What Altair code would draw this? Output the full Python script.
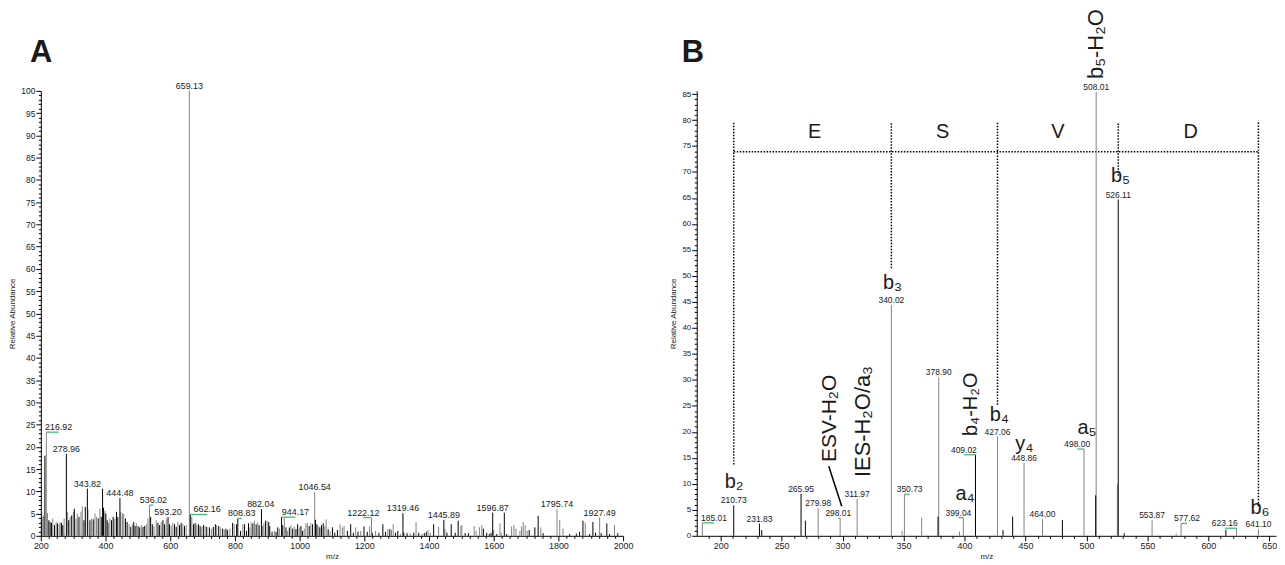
import altair as alt
import pandas as pd

FONT = "Liberation Sans"
BLACK = "#000000"
GREY = "#828282"
GREEN = "#3fbf6f"
TXT = "#1a1a1a"
COLMAP = {"k": BLACK, "g": GREY}

# ---------------- Panel A : full MS spectrum ----------------
a_mz_low = [
    203.1, 208.2, 212.5, 216.92, 220.5, 224.6, 228.7, 232.8, 236.9, 242.1,
    247.2, 251.3, 256.4, 259.5, 263.6, 267.7, 271.8, 278.96, 282.1, 286.2,
    290.3, 295.4, 300.5, 303.6, 308.7, 312.8, 317.9, 324.1, 328.2, 333.3,
    337.4, 343.82, 345.6, 351.8, 356.9, 362.1, 367.2, 372.3, 377.4, 382.6,
    386.7, 390.8, 393.8, 397.9, 401.0, 405.1, 409.2, 413.3, 418.5, 423.6,
    428.7, 433.8, 437.9, 444.48, 447.2, 452.3, 456.4, 461.5, 466.7, 472.8,
    477.9, 483.1, 487.2, 491.3, 495.4, 500.5, 505.6, 510.8, 515.9, 521.0,
    526.2, 531.3, 536.02, 539.5, 544.6, 549.7, 556.9, 562.1, 567.2, 572.3,
    577.4, 582.6, 587.7, 593.2, 597.9, 603.1, 608.2, 613.3, 618.5, 623.6,
    628.7, 633.8, 639.0, 644.1, 649.2, 659.13, 662.16, 666.7, 671.8, 676.9,
    682.1, 687.2, 692.3, 697.4, 702.6, 707.7, 712.8, 721.0, 727.2, 733.3,
    739.5, 743.6, 749.7, 755.9, 762.1, 767.2, 772.3, 777.4, 784.6, 792.8,
    797.9, 805.1, 808.83,
]
a_ab_low = [
    4.25, 4.6, 18.0, 23.3, 5.1, 3.5, 3.1, 2.9, 3.9, 2.4,
    3.1, 2.8, 2.6, 3.1, 2.9, 2.4, 3.9, 18.4, 5.4, 3.5,
    4.25, 4.6, 5.4, 6.1, 3.9, 5.0, 4.25, 5.4, 6.6, 3.5,
    6.5, 10.6, 5.9, 3.5, 3.9, 3.7, 5.0, 4.25, 3.9, 6.1,
    4.25, 10.6, 6.3, 5.6, 5.0, 3.5, 2.9, 3.9, 3.5, 4.25,
    3.9, 5.4, 4.25, 8.5, 5.4, 5.0, 5.0, 3.9, 3.1, 2.6,
    2.0, 2.6, 3.1, 2.2, 2.8, 2.2, 1.9, 2.4, 2.0, 2.2,
    2.6, 3.9, 6.9, 4.25, 2.6, 2.2, 3.5, 2.9, 2.4, 3.1,
    3.5, 2.6, 3.9, 4.25, 2.6, 2.2, 2.9, 2.6, 2.0, 3.1,
    2.4, 2.9, 2.6, 2.2, 2.4, 100, 4.8, 4.25, 2.6, 2.9,
    2.4, 2.6, 2.2, 2.0, 2.4, 2.2, 2.0, 1.9, 1.6, 2.0,
    2.6, 2.4, 2.2, 1.9, 1.6, 1.4, 1.6, 1.3, 1.6, 2.9,
    2.6, 2.6, 3.9,
]
a_col_low = list(
    "kgkggkkkgk" "gkggkkgkgk" "gkgkggkggk" "kkgkgkggkg" "kkkgkkggkk"
    "gkkkgggkkg" "kgkkgkkgkk" "gggkkggkkg" "kkgkkggkkg" "kkgkggkgkk"
    "gkkgkgkkgk" "kgkgkgkkgk" "gkk"
)

a_mz_mid = [
    817.4, 824.6, 829.7, 835.9, 842.0, 846.1, 850.2, 855.4, 860.5, 865.6,
    870.7, 874.8, 882.04, 885.1, 889.2, 894.3, 899.5, 904.6, 907.7, 914.8,
    922.0, 927.1, 932.3, 937.4, 944.17, 947.7, 952.8, 957.9, 963.0, 968.2,
    973.3, 978.4, 983.6, 988.7, 993.8, 998.9, 1004.1, 1009.2, 1014.3, 1019.5,
    1024.6, 1029.7, 1034.8, 1040.0, 1046.54, 1049.2, 1053.3, 1057.4, 1062.5, 1067.6,
    1072.8, 1077.9, 1082.0, 1088.2, 1094.3, 1101.5, 1108.7, 1116.9, 1125.1, 1132.3,
    1137.4, 1147.7, 1157.9, 1166.1, 1173.3, 1180.5, 1188.7, 1198.9, 1209.2, 1216.4,
    1222.12, 1224.6, 1234.8, 1245.1, 1257.4, 1265.6, 1272.8, 1278.9, 1284.1, 1289.2,
    1296.4, 1303.5, 1311.8, 1319.46, 1322.0, 1332.3, 1342.5, 1352.8, 1360.0, 1368.2,
    1378.4, 1385.6, 1391.7, 1396.9, 1404.1, 1414.3,
]
a_ab_mid = [
    1.1, 2.6, 2.6, 1.1, 2.8, 1.9, 3.0, 2.8, 3.4, 2.6,
    3.0, 2.4, 6.0, 2.2, 2.8, 3.4, 3.4, 3.1, 2.2, 0.9,
    1.1, 0.9, 1.9, 1.6, 4.2, 2.4, 4.1, 1.9, 1.1, 1.9,
    2.4, 1.6, 2.1, 1.5, 2.6, 1.9, 2.2, 1.1, 1.6, 2.8,
    2.8, 2.2, 2.8, 2.6, 9.8, 3.6, 2.6, 2.2, 1.9, 2.4,
    2.8, 2.2, 3.7, 1.5, 1.1, 1.9, 0.7, 1.3, 2.6, 1.9,
    2.2, 1.1, 2.6, 0.7, 1.9, 0.9, 1.1, 2.1, 0.9, 2.1,
    4.1, 0.7, 1.1, 0.7, 2.6, 0.9, 1.5, 1.5, 1.3, 2.6,
    0.7, 1.1, 0.4, 5.1, 0.7, 0.6, 0.5, 0.7, 3.1, 0.7,
    0.5, 0.6, 0.9, 1.3, 0.7, 2.6,
]
a_col_mid = list(
    "kgkkkggkgk" "gkkggkgkkk" "gkkgkkgkgk" "gkgkkgkkgg" "gkgkgkkgkk"
    "kggkgkkkgg" "gkkkgkgkkg" "gkgkkkgkgg" "kkgkkkgkgk" "gkkggk"
)

a_mz_high = [
    1429.7, 1445.89, 1449.2, 1455.4, 1468.7, 1481.0, 1490.2, 1498.4, 1501.5, 1511.8,
    1522.0, 1539.5, 1545.6, 1555.9, 1563.1, 1568.2, 1578.4, 1586.6, 1591.8, 1596.87,
    1600.0, 1609.2, 1619.5, 1623.6, 1632.8, 1640.0, 1655.4, 1662.5, 1668.7, 1681.0,
    1686.1, 1691.3, 1697.4, 1703.6, 1709.7, 1727.2, 1737.4, 1745.6, 1752.8, 1795.74,
    1804.1, 1814.3, 1834.8, 1855.4, 1865.6, 1875.9, 1883.0, 1896.4, 1906.6, 1914.8,
    1927.49, 1932.3, 1949.7, 1957.9, 1973.3, 1983.5,
]
a_ab_high = [
    2.1, 3.6, 1.5, 0.7, 2.6, 0.7, 3.4, 2.2, 2.4, 0.6,
    0.6, 2.2, 1.1, 1.9, 2.4, 1.6, 0.7, 0.4, 0.7, 5.2,
    1.3, 0.4, 2.8, 0.7, 5.2, 0.4, 2.1, 2.4, 1.6, 1.1,
    2.1, 3.1, 2.4, 1.1, 1.3, 1.9, 4.5, 1.9, 0.6, 6.0,
    3.6, 1.6, 0.4, 0.5, 0.9, 3.4, 3.0, 0.4, 3.1, 0.7,
    4.1, 0.6, 2.8, 0.4, 2.4, 0.6,
]
a_col_high = list(
    "gkgkkkkggk" "kggggkkkkk" "gkggkkgggg" "ggggkkkgkg" "ggkkkkgkkk" "gkkkgk"
)

# peak labels of panel A
a_lab_text = ["216.92", "278.96", "343.82", "444.48", "536.02", "593.20", "659.13",
              "662.16", "808.83", "882.04", "944.17", "1046.54", "1222.12", "1319.46",
              "1445.89", "1596.87", "1795.74", "1927.49"]
a_lab_peak = [216.92, 278.96, 343.82, 444.48, 536.02, 593.20, 659.13,
              662.16, 808.83, 882.04, 944.17, 1046.54, 1222.12, 1319.46,
              1445.89, 1596.87, 1795.74, 1927.49]
a_lab_x = [255, 278.96, 343.82, 444.48, 548, 593.2, 659.13,
           714, 821, 880, 987, 1046.54, 1197, 1319.46,
           1445.89, 1596.87, 1795.74, 1927.49]
a_lab_y = [23.3, 18.4, 10.6, 8.5, 6.9, 4.25, 100,
           4.8, 3.9, 6.0, 4.2, 9.8, 4.1, 5.1,
           3.6, 5.2, 6.0, 4.1]

# ---------------- Panel B : MS/MS spectrum ----------------
b_mz = [185.01, 210.73, 231.83, 233.7, 265.95, 269.5, 279.98, 298.01, 311.97, 340.02,
        348.8, 350.73, 364.9, 378.90, 378.3, 395.9, 399.04, 409.02, 427.06, 431.6,
        439.5, 448.86, 464.00, 480.3, 498.00, 508.01, 507.6, 526.11, 525.4, 531.0,
        553.87, 573.6, 577.62, 614.4, 623.16, 641.10]
b_ab = [2.5, 5.85, 2.35, 1.1, 8.1, 2.9, 5.3, 3.4, 7.1, 44.4,
        0.95, 8.0, 3.5, 30.5, 3.7, 0.8, 3.5, 15.6, 19.1, 1.1,
        3.7, 14.0, 3.2, 3.05, 16.7, 85.4, 7.8, 64.7, 9.9, 0.5,
        3.05, 0.45, 2.4, 1.15, 1.46, 1.27]
b_col = list("gkkkkkgggg" "ggggkggkgk" "kggkggkkgk" "gggkgg")

b_lab_text = ["185.01", "210.73", "231.83", "265.95", "279.98", "298.01", "311.97",
              "340.02", "350.73", "378.90", "399.04", "409.02", "427.06", "448.86",
              "464.00", "498.00", "508.01", "526.11", "553.87", "577.62", "623.16", "641.10"]
b_lab_peak = [185.01, 210.73, 231.83, 265.95, 279.98, 298.01, 311.97,
              340.02, 350.73, 378.90, 399.04, 409.02, 427.06, 448.86,
              464.00, 498.00, 508.01, 526.11, 553.87, 577.62, 623.16, 641.10]
b_lab_x = [194.5, 210.73, 231.83, 265.95, 279.98, 296.5, 311.97,
           340.02, 355, 378.90, 395, 399.5, 427.06, 448.86,
           464.00, 492.5, 508.01, 526.11, 553.87, 582.5, 613.5, 641.10]
b_lab_y = [2.5, 5.85, 2.35, 8.1, 5.3, 3.4, 7.1,
           44.4, 8.0, 30.5, 3.5, 15.6, 19.1, 14.0,
           3.2, 16.7, 85.4, 64.7, 3.05, 2.4, 1.46, 1.27]

ion_text = ["b₂", "b₃", "a₄", "b₄", "y₄", "a₅", "b₅", "b₆"]
ion_x = [211, 341, 400.5, 428.6, 449, 500.5, 528, 642.4]
ion_y = [10.3, 48.6, 8.1, 23.2, 17.7, 20.7, 69.3, 5.4]

rot_text = ["ESV-H₂O", "IES-H₂O/a₃", "b₄-H₂O", "b₅-H₂O"]
rot_x = [289.8, 316.5, 405.7, 508.3]
rot_y = [22.6, 22.0, 25.3, 94.6]
rot_size = [21, 22, 20, 22]

# sequence ladder
ladder_x = [210.73, 340.02, 427.06, 526.11, 641.10]
ladder_bottom = [13.7, 51.5, 25.2, 69.3, 5.7]
ladder_top = 79.6
ladder_level = 73.9
res_text = ["E", "S", "V", "D"]
res_x = [277, 382, 476.7, 585.5]
res_y = [77.7, 77.7, 77.7, 77.7]

esv_from = (288.7, 13.4)
esv_to = (299.3, 5.7)


def check(*lists):
    n = len(lists[0])
    if any(len(l) != n for l in lists):
        raise ValueError(str([len(l) for l in lists]))


check(a_mz_low, a_ab_low, a_col_low)
check(a_mz_mid, a_ab_mid, a_col_mid)
check(a_mz_high, a_ab_high, a_col_high)
check(b_mz, b_ab, b_col)
check(a_lab_text, a_lab_peak, a_lab_x, a_lab_y)
check(b_lab_text, b_lab_peak, b_lab_x, b_lab_y)

dfA = pd.DataFrame({
    "mz": a_mz_low + a_mz_mid + a_mz_high,
    "ab": a_ab_low + a_ab_mid + a_ab_high,
    "c": [COLMAP[c] for c in a_col_low + a_col_mid + a_col_high],
})
dfA["o"] = (dfA["c"] == BLACK).astype(int)
dfA = dfA.sort_values("o", kind="stable")

dfB = pd.DataFrame({"mz": b_mz, "ab": b_ab, "c": [COLMAP[c] for c in b_col]})
dfB["o"] = (dfB["c"] == BLACK).astype(int)
dfB = dfB.sort_values("o", kind="stable")

labA = pd.DataFrame({"t": a_lab_text, "px": a_lab_peak, "lx": a_lab_x, "ly": a_lab_y})
labB = pd.DataFrame({"t": b_lab_text, "px": b_lab_peak, "lx": b_lab_x, "ly": b_lab_y})


def axis(values, major, title, lab_fs, title_pad):
    return alt.Axis(
        values=values, format="d",
        labelExpr=f"datum.value % {major} === 0 ? datum.label : ''",
        tickSize={"condition": {"test": f"datum.value % {major} === 0", "value": 5}, "value": 2.5},
        labelOverlap=False, labelFlush=False, grid=False,
        domainColor=BLACK, tickColor=BLACK, tickWidth=1, domainWidth=1,
        labelColor=TXT, labelFont=FONT, labelFontSize=lab_fs, labelPadding=1,
        title=title, titleFont=FONT, titleFontSize=8, titleFontWeight="normal",
        titleColor=TXT, titlePadding=title_pad,
    )


AX_A = axis(list(range(200, 2001, 25)), 200, "m/z", 9, 2)
AY_A = axis(list(range(0, 101)), 5, "Relative Abundance", 8.5, 4)
AX_B = axis(list(range(190, 651, 10)), 50, "m/z", 9, 2)
AY_B = axis(list(range(0, 86)), 5, "Relative Abundance", 8, 4)

SX_A = alt.Scale(domain=[200, 2000], nice=False, zero=False)
SY_A = alt.Scale(domain=[0, 100], nice=False)
SX_B = alt.Scale(domain=[180.4, 655.5], nice=False, zero=False)
SY_B = alt.Scale(domain=[0, 85.6], nice=False)


def xA(f):
    return alt.X(f"{f}:Q", scale=SX_A, axis=AX_A)


def yA(f):
    return alt.Y(f"{f}:Q", scale=SY_A, axis=AY_A)


def xB(f):
    return alt.X(f"{f}:Q", scale=SX_B, axis=AX_B)


def yB(f):
    return alt.Y(f"{f}:Q", scale=SY_B, axis=AY_B)


# ---- Panel A layers
peaksA = alt.Chart(dfA).mark_rule(strokeWidth=1).encode(
    x=xA("mz"), y=yA("ab"), y2=alt.datum(0), color=alt.Color("c:N", scale=None))
greenA = alt.Chart(labA).transform_filter("abs(datum.lx - datum.px) > 2").mark_rule(
    color=GREEN, strokeWidth=1.3).encode(x=xA("px"), x2="lx:Q", y=yA("ly"))
textA = alt.Chart(labA).mark_text(font=FONT, fontSize=9, baseline="alphabetic", dy=-2,
                                  color=TXT).encode(x=xA("lx"), y=yA("ly"), text="t:N")
letterA = alt.Chart(pd.DataFrame({"t": ["A"]})).mark_text(
    font=FONT, fontSize=31, fontWeight="bold", align="left", baseline="alphabetic",
    color=TXT).encode(x=alt.value(-11), y=alt.value(-29), text="t:N")

left = alt.layer(peaksA, greenA, textA, letterA).properties(width=585, height=447)

# ---- Panel B layers
ladH = pd.DataFrame({"x1": [ladder_x[0]], "x2": [ladder_x[-1]], "y": [ladder_level]})
ladV = pd.DataFrame({"x": ladder_x, "y1": ladder_bottom, "y2": [ladder_top] * len(ladder_x)})
dotH = alt.Chart(ladH).mark_rule(strokeDash=[1.5, 1.5], strokeWidth=1.5, color=BLACK).encode(
    x=xB("x1"), x2="x2:Q", y=yB("y"))
dotV = alt.Chart(ladV).mark_rule(strokeDash=[1.5, 1.5], strokeWidth=1.5, color=BLACK).encode(
    x=xB("x"), y=yB("y1"), y2="y2:Q")
resB = alt.Chart(pd.DataFrame({"t": res_text, "x": res_x, "y": res_y})).mark_text(
    font=FONT, fontSize=20, align="center", baseline="middle", color=TXT).encode(
    x=xB("x"), y=yB("y"), text="t:N")

peaksB = alt.Chart(dfB).mark_rule(strokeWidth=1).encode(
    x=xB("mz"), y=yB("ab"), y2=alt.datum(0), color=alt.Color("c:N", scale=None))
greenB = alt.Chart(labB).transform_filter("abs(datum.lx - datum.px) > 1").mark_rule(
    color=GREEN, strokeWidth=1.3).encode(x=xB("px"), x2="lx:Q", y=yB("ly"))
textB = alt.Chart(labB).mark_text(font=FONT, fontSize=8.5, baseline="alphabetic", dy=-2,
                                  color=TXT).encode(x=xB("lx"), y=yB("ly"), text="t:N")
ionB = alt.Chart(pd.DataFrame({"t": ion_text, "x": ion_x, "y": ion_y})).mark_text(
    font=FONT, fontSize=20, align="center", baseline="middle", color=TXT).encode(
    x=xB("x"), y=yB("y"), text="t:N")
rotB = alt.Chart(pd.DataFrame({"t": rot_text, "x": rot_x, "y": rot_y, "fs": rot_size})).mark_text(
    font=FONT, angle=270, align="center", baseline="middle", color=TXT).encode(
    x=xB("x"), y=yB("y"), text="t:N", size=alt.Size("fs:Q", scale=None))
esv = alt.Chart(pd.DataFrame({"x1": [esv_from[0]], "y1": [esv_from[1]],
                              "x2": [esv_to[0]], "y2": [esv_to[1]]})).mark_rule(
    strokeWidth=1.5, color=BLACK).encode(x=xB("x1"), x2="x2:Q", y=yB("y1"), y2="y2:Q")
letterB = alt.Chart(pd.DataFrame({"t": ["B"]})).mark_text(
    font=FONT, fontSize=31, fontWeight="bold", align="left", baseline="alphabetic",
    color=TXT).encode(x=alt.value(-15), y=alt.value(-29), text="t:N")

right = alt.layer(dotH, dotV, resB, peaksB, greenB, textB, ionB, rotB, esv, letterB).properties(
    width=582, height=447)

chart = (
    alt.hconcat(left, right, spacing=36)
    .properties(padding=0)
    .configure(font=FONT)
    .configure_view(stroke=None)
)

chart.save("out.html", embed_options={"renderer": "svg", "actions": False})
